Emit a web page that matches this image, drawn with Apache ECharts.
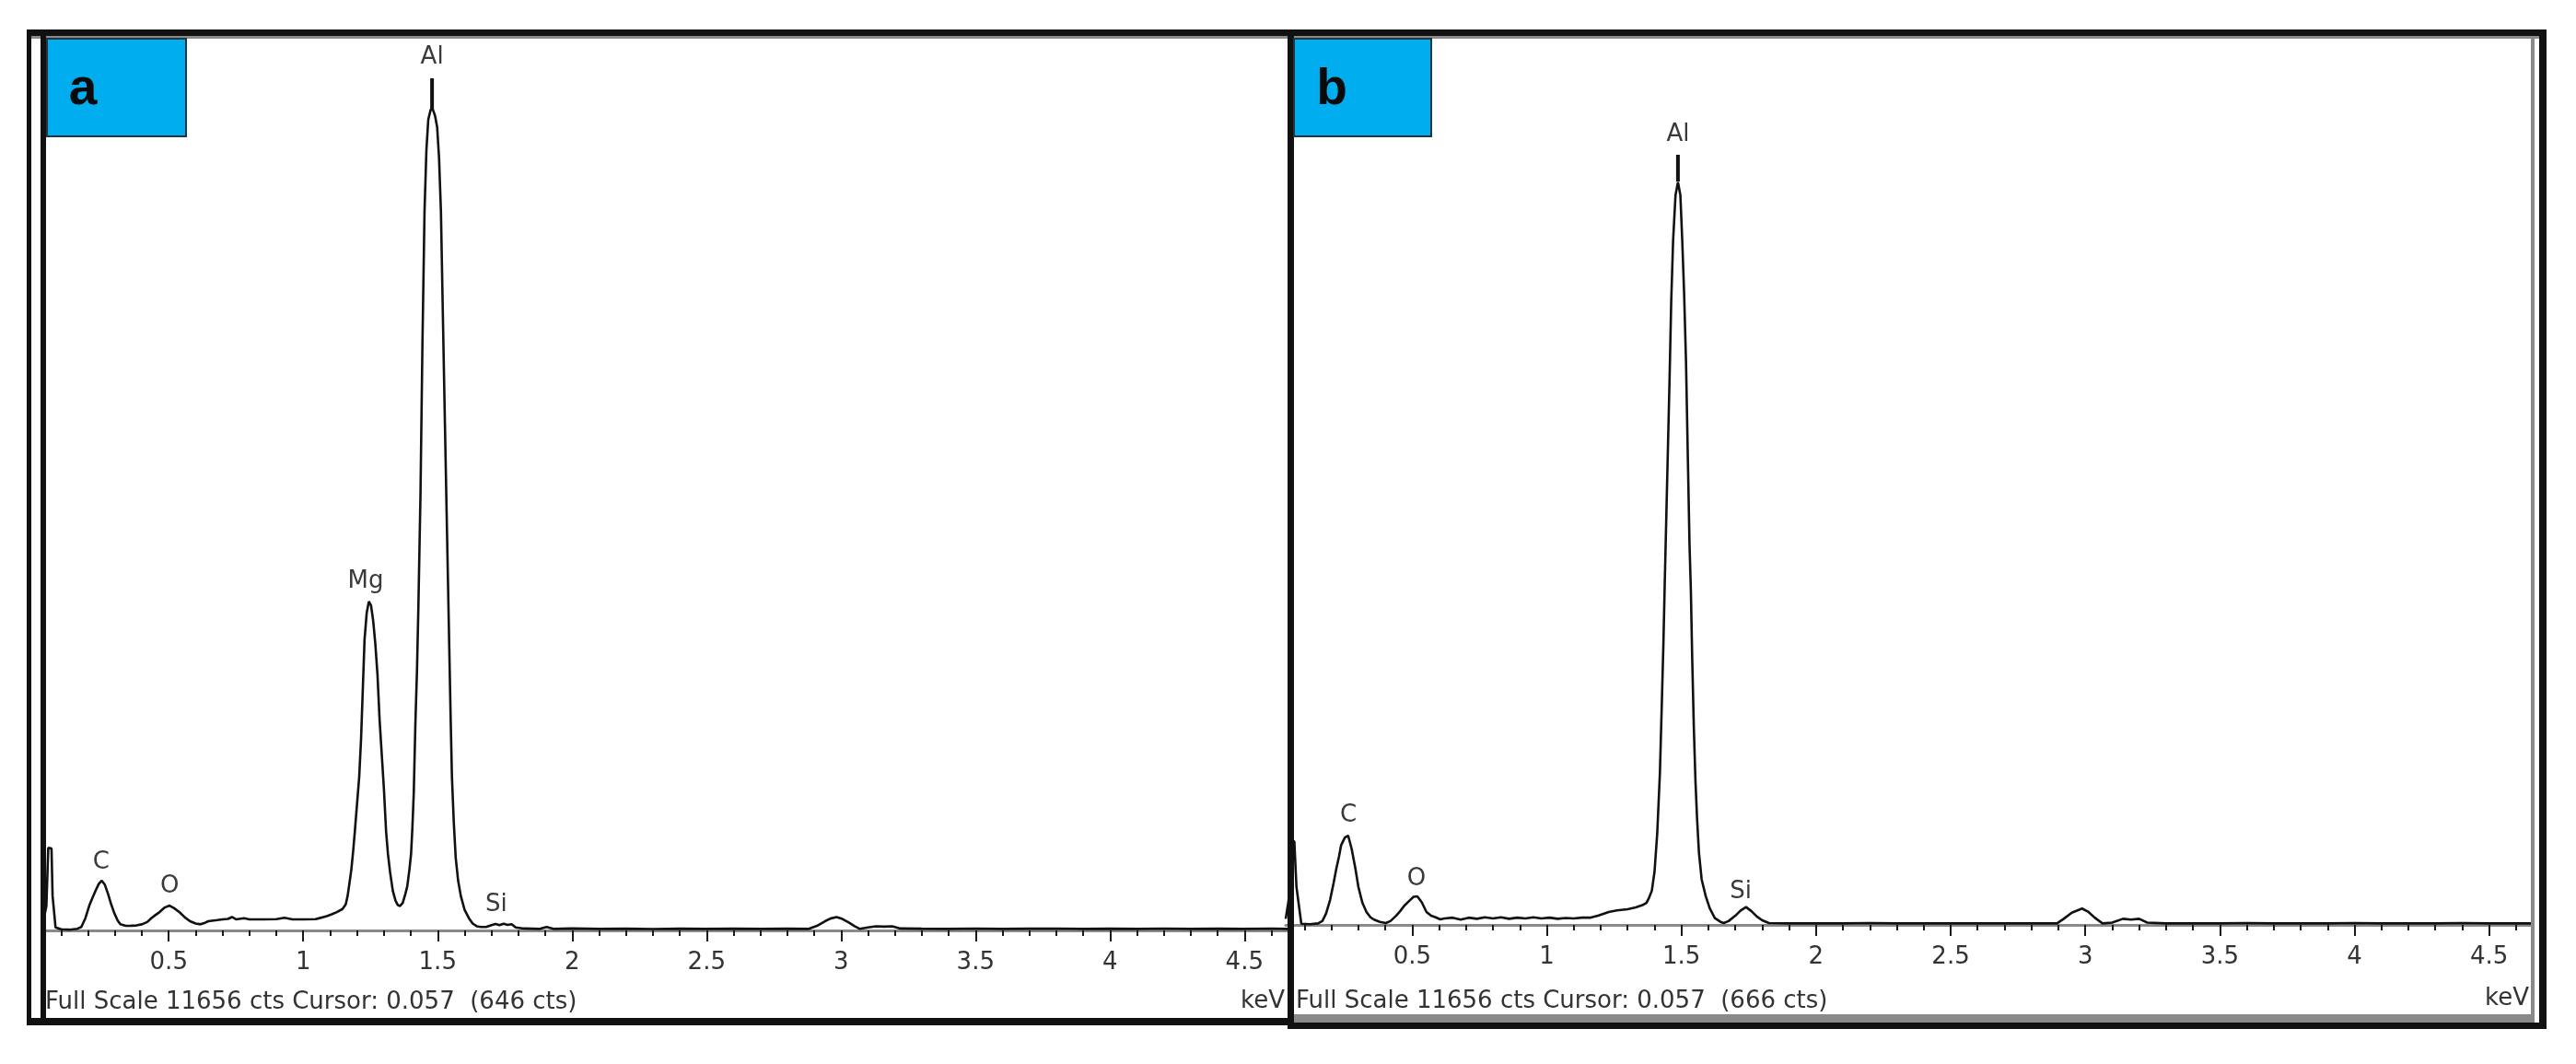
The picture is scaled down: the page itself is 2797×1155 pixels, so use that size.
<!DOCTYPE html>
<html>
<head>
<meta charset="utf-8">
<script src="https://cdn.jsdelivr.net/npm/echarts@6/dist/echarts.min.js"></script>
<style>html,body{margin:0;padding:0;background:#fff;}#c{width:2797px;height:1155px;}</style>
</head>
<body>
<div id="c"></div>
<script>
// ---- data (keV, counts) ----
const spectrumA = [[0.03,60],[0.045,320],[0.052,1080],[0.064,1070],[0.068,450],[0.079,40],[0.10,15],[0.13,10],[0.16,22],[0.175,45],[0.19,160],[0.205,330],[0.218,440],[0.228,520],[0.24,610],[0.251,650],[0.262,600],[0.274,480],[0.286,340],[0.297,230],[0.31,130],[0.32,80],[0.34,60],[0.36,62],[0.38,65],[0.40,80],[0.42,110],[0.435,160],[0.45,200],[0.466,240],[0.485,300],[0.503,325],[0.52,290],[0.541,235],[0.56,170],[0.579,120],[0.60,90],[0.618,80],[0.635,100],[0.647,120],[0.68,135],[0.70,145],[0.72,150],[0.735,175],[0.75,145],[0.78,160],[0.80,145],[0.85,145],[0.90,148],[0.93,165],[0.96,145],[1.00,145],[1.046,148],[1.07,170],[1.09,190],[1.106,210],[1.125,240],[1.146,280],[1.158,340],[1.165,450],[1.172,620],[1.179,800],[1.186,1050],[1.192,1300],[1.2,1650],[1.208,2000],[1.215,2500],[1.221,3100],[1.228,3800],[1.236,4150],[1.244,4300],[1.252,4250],[1.26,4050],[1.268,3750],[1.276,3350],[1.284,2750],[1.292,2300],[1.3,1850],[1.308,1300],[1.315,1000],[1.323,760],[1.333,520],[1.343,390],[1.352,330],[1.36,320],[1.37,360],[1.38,480],[1.387,580],[1.395,800],[1.401,1000],[1.406,1350],[1.411,1800],[1.417,2700],[1.423,3400],[1.428,4200],[1.436,5700],[1.443,7600],[1.451,9400],[1.458,10200],[1.465,10600],[1.474,10730],[1.482,10730],[1.49,10650],[1.498,10500],[1.505,10100],[1.512,9400],[1.52,7900],[1.527,6600],[1.533,5500],[1.538,4600],[1.543,3700],[1.548,2800],[1.553,2000],[1.56,1400],[1.567,950],[1.576,650],[1.586,450],[1.60,270],[1.616,160],[1.63,90],[1.645,55],[1.66,45],[1.68,45],[1.70,70],[1.715,85],[1.73,70],[1.745,88],[1.76,72],[1.775,82],[1.79,40],[1.82,25],[1.88,20],[1.905,45],[1.93,20],[2.0,25],[2.1,20],[2.2,22],[2.3,18],[2.4,22],[2.5,20],[2.6,22],[2.7,20],[2.8,22],[2.88,20],[2.91,60],[2.94,120],[2.96,155],[2.983,175],[3.005,150],[3.03,100],[3.05,55],[3.07,20],[3.10,40],[3.13,55],[3.16,50],[3.19,55],[3.22,25],[3.3,22],[3.4,20],[3.5,24],[3.6,20],[3.7,22],[3.8,24],[3.9,20],[4.0,22],[4.1,20],[4.2,24],[4.3,20],[4.4,22],[4.5,20],[4.6,24],[4.66,20]];

const spectrumB = [[0.03,80],[0.045,420],[0.052,1100],[0.062,1100],[0.07,500],[0.088,15],[0.12,10],[0.15,20],[0.166,50],[0.18,150],[0.195,330],[0.208,550],[0.218,740],[0.228,900],[0.236,1050],[0.25,1150],[0.262,1175],[0.275,1000],[0.289,740],[0.30,500],[0.315,290],[0.33,170],[0.345,100],[0.358,70],[0.38,40],[0.402,25],[0.419,50],[0.44,120],[0.455,180],[0.471,255],[0.49,320],[0.505,370],[0.519,375],[0.535,300],[0.553,170],[0.57,120],[0.587,100],[0.604,73],[0.62,85],[0.65,95],[0.68,70],[0.71,95],[0.74,80],[0.77,100],[0.80,85],[0.83,100],[0.86,80],[0.89,95],[0.92,85],[0.95,100],[0.98,85],[1.01,95],[1.04,80],[1.07,90],[1.10,85],[1.13,95],[1.16,95],[1.19,120],[1.23,170],[1.26,190],[1.30,205],[1.33,230],[1.355,260],[1.37,290],[1.38,360],[1.39,450],[1.40,700],[1.41,1200],[1.42,2000],[1.427,2900],[1.433,3700],[1.438,4500],[1.444,5400],[1.45,6300],[1.456,7200],[1.462,8200],[1.469,9000],[1.478,9600],[1.487,9770],[1.496,9600],[1.503,9000],[1.51,8300],[1.517,7400],[1.524,6100],[1.53,5000],[1.535,4400],[1.54,3500],[1.546,2600],[1.552,1900],[1.558,1400],[1.565,950],[1.575,600],[1.59,380],[1.605,220],[1.624,90],[1.645,40],[1.657,25],[1.675,50],[1.70,120],[1.72,190],[1.74,235],[1.76,180],[1.78,110],[1.80,60],[1.825,25],[1.9,20],[2.0,22],[2.1,20],[2.2,24],[2.3,20],[2.4,22],[2.5,20],[2.6,22],[2.7,20],[2.8,22],[2.895,20],[2.92,80],[2.95,160],[2.988,215],[3.01,175],[3.035,95],[3.064,20],[3.10,30],[3.14,80],[3.17,70],[3.20,80],[3.23,30],[3.3,20],[3.4,22],[3.5,20],[3.6,24],[3.7,20],[3.8,22],[3.9,20],[4.0,24],[4.1,20],[4.2,22],[4.3,20],[4.4,24],[4.5,20],[4.6,22],[4.662,20]];

const majorTicks = [0.5,1,1.5,2,2.5,3,3.5,4,4.5];
const minorTicks = [0.1,0.2,0.3,0.4,0.5,0.6,0.7,0.8,0.9,1.0,1.1,1.2,1.3,1.4,1.5,1.6,1.7,1.8,1.9,2.0,2.1,2.2,2.3,2.4,2.5,2.6,2.7,2.8,2.9,3.0,3.1,3.2,3.3,3.4,3.5,3.6,3.7,3.8,3.9,4.0,4.1,4.2,4.3,4.4,4.5,4.6];

const labelNamesA = ['Al','Mg','C','O','Si'];
const labelPointsA = [[1.479,11415],[1.232,4564],[0.249,891],[0.503,578],[1.718,337]];
const labelNamesB = ['Al','C','O','Si'];
const labelPointsB = [[1.487,10396],[0.263,1442],[0.516,606],[1.720,436]];
const markersA = [[1.479,11138,10728]];
const markersB = [[1.487,10129,9778]];

const fullScale = 11656;
const footerA = 'Full Scale 11656 cts Cursor: 0.057  (646 cts)';
const footerB = 'Full Scale 11656 cts Cursor: 0.057  (666 cts)';
const panelLetters = ['a','b'];

// ---- chart ----
const chart = echarts.init(document.getElementById('c'), null, {renderer:'canvas'});
const FONT = '"DejaVu Sans", "Liberation Sans", Arial, sans-serif';

function majorAxis(gi, min, max){
  return {type:'value', gridIndex:gi, min:min, max:max, position:'bottom',
    axisLine:{show:true, onZero:false, lineStyle:{color:'#8a8a8a', width:3}},
    axisTick:{show:true, customValues:majorTicks, length:12, lineStyle:{color:'#1a1a1a', width:2}},
    axisLabel:{show:true, customValues:majorTicks, margin:22, fontFamily:FONT, fontSize:26, color:'#333',
      formatter:function(v){return String(v);}},
    splitLine:{show:false}};
}
function minorAxis(gi, min, max){
  return {type:'value', gridIndex:gi, min:min, max:max, position:'bottom',
    axisLine:{show:false, onZero:false},
    axisTick:{show:true, customValues:minorTicks, length:6, lineStyle:{color:'#1a1a1a', width:2}},
    axisLabel:{show:false}, splitLine:{show:false}};
}
function labelSeries(xi, yi, names, pts){
  return {type:'custom', xAxisIndex:xi, yAxisIndex:yi, clip:false, z:5, silent:true,
    data:pts,
    renderItem:function(params, api){
      const p = api.coord([api.value(0), api.value(1)]);
      return {type:'text', x:p[0], y:p[1],
        style:{text:names[params.dataIndex], fill:'#3a3a3a', fontSize:26, fontFamily:FONT,
               align:'center', verticalAlign:'middle'}};
    }};
}
function markerSeries(xi, yi, marks){
  return {type:'custom', xAxisIndex:xi, yAxisIndex:yi, clip:false, z:6, silent:true,
    data:marks,
    renderItem:function(params, api){
      const a = api.coord([api.value(0), api.value(1)]);
      const b = api.coord([api.value(0), api.value(2)]);
      return {type:'line', shape:{x1:a[0], y1:a[1], x2:b[0], y2:b[1]},
        style:{stroke:'#111', lineWidth:4}};
    }};
}
function lineSeries(xi, yi, data){
  return {type:'line', xAxisIndex:xi, yAxisIndex:yi, data:data, showSymbol:false, symbol:'none',
    lineStyle:{color:'#111', width:2.6}, z:4, silent:true, animation:false};
}

const K = '#111', G = '#8a8a8a';
function rect(x,y,w,h,fill,z){ return {type:'rect', shape:{x:x,y:y,width:w,height:h}, style:{fill:fill}, z:z||100, silent:true}; }

const option = {
  animation:false,
  backgroundColor:'#ffffff',
  grid:[
    {left:46, top:42, width:1352, height:968, containLabel:false},
    {left:1396, top:42, width:1354, height:962, containLabel:false}
  ],
  xAxis:[ majorAxis(0,0.03,4.66), minorAxis(0,0.03,4.66), majorAxis(1,0.03,4.662), minorAxis(1,0.03,4.662) ],
  yAxis:[
    {type:'value', gridIndex:0, min:0, max:fullScale, show:false, splitLine:{show:false}},
    {type:'value', gridIndex:1, min:0, max:fullScale, show:false, splitLine:{show:false}}
  ],
  series:[
    lineSeries(0,0,spectrumA),
    lineSeries(2,1,spectrumB),
    labelSeries(0,0,labelNamesA,labelPointsA),
    labelSeries(2,1,labelNamesB,labelPointsB),
    markerSeries(0,0,markersA),
    markerSeries(2,1,markersB)
  ],
  graphic:[
    rect(29,32,2736,7,K),
    rect(34,39,2723,3,G),
    rect(29,32,5,1081,K),
    rect(44,39,6,1068,K),
    rect(1398,32,7,1081,K),
    rect(29,1105,1376,8,K),
    rect(1405,1101,1345,9,G),
    rect(1398,1110,1367,7,K),
    rect(2748,39,4,1071,G),
    rect(2757,32,8,1085,K),
    {type:'rect', shape:{x:51,y:42,width:151,height:106}, style:{fill:'#00ADEF', stroke:'#24343c', lineWidth:2}, z:110, silent:true},
    {type:'rect', shape:{x:1405,y:42,width:149,height:106}, style:{fill:'#00ADEF', stroke:'#24343c', lineWidth:2}, z:110, silent:true},
    {type:'text', x:90, y:98, style:{text:panelLetters[0], fill:'#0a0a0a', font:'bold 55px "Liberation Sans", Arial, sans-serif', align:'center', verticalAlign:'middle'}, z:120, silent:true},
    {type:'text', x:1446, y:98, style:{text:panelLetters[1], fill:'#0a0a0a', font:'bold 55px "Liberation Sans", Arial, sans-serif', align:'center', verticalAlign:'middle'}, z:120, silent:true},
    {type:'text', x:49, y:1088, style:{text:footerA, fill:'#333', font:'26px ' + FONT, align:'left', verticalAlign:'middle'}, z:105, silent:true},
    {type:'text', x:1407, y:1087, style:{text:footerB, fill:'#333', font:'26px ' + FONT, align:'left', verticalAlign:'middle'}, z:105, silent:true},
    {type:'text', x:1395, y:1087, style:{text:'keV', fill:'#333', font:'26px ' + FONT, align:'right', verticalAlign:'middle'}, z:105, silent:true},
    {type:'text', x:2746, y:1084, style:{text:'keV', fill:'#333', font:'26px ' + FONT, align:'right', verticalAlign:'middle'}, z:105, silent:true}
  ]
};
chart.setOption(option);
</script>
</body>
</html>
